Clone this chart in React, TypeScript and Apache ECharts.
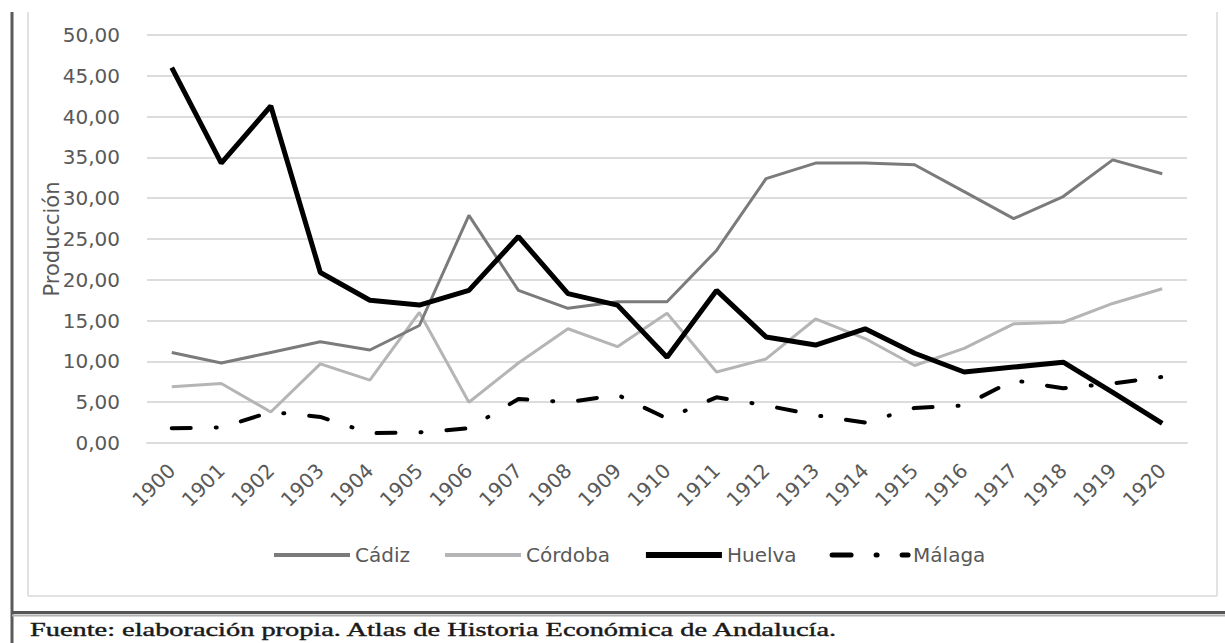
import React, { useEffect, useRef } from "react";
import * as echarts from "echarts";

const years = [
  "1900", "1901", "1902", "1903", "1904", "1905", "1906", "1907", "1908", "1909", "1910",
  "1911", "1912", "1913", "1914", "1915", "1916", "1917", "1918", "1919", "1920",
];
const cadiz = [11.1, 9.8, 11.1, 12.4, 11.4, 14.4, 27.9, 18.7, 16.5, 17.3, 17.3, 23.6, 32.4, 34.3, 34.3, 34.1, 30.8, 27.5, 30.2, 34.7, 33.0];
const cordoba = [6.9, 7.3, 3.8, 9.7, 7.7, 16.0, 5.0, 9.8, 14.0, 11.8, 15.9, 8.7, 10.3, 15.2, 12.8, 9.5, 11.6, 14.6, 14.8, 17.1, 18.9];
const huelva = [46.0, 34.3, 41.3, 20.9, 17.5, 16.9, 18.7, 25.3, 18.3, 16.9, 10.5, 18.7, 13.0, 12.0, 14.0, 11.0, 8.7, 9.3, 9.9, 6.2, 2.4];
const malaga = [1.8, 1.9, 3.8, 3.2, 1.2, 1.3, 1.8, 5.4, 5.0, 5.9, 3.0, 5.6, 4.6, 3.4, 2.5, 4.3, 4.6, 7.7, 6.7, 7.3, 8.1];

const yAxisName = "Producción";
const caption = "Fuente: elaboración propia. Atlas de Historia Económica de Andalucía.";

const W = 1225;
const H = 643;
const FONT = "DejaVu Sans";
const TEXT = "#595959";
const MALAGA_DASH = [19, 25, 1, 25];

export default function App() {
  const ref = useRef<HTMLDivElement>(null);

  useEffect(() => {
    if (!ref.current) return;
    const chart = echarts.init(ref.current, undefined, { renderer: "svg", width: W, height: H });

    let capScale = 1.45;
    try {
      const c = document.createElement("canvas").getContext("2d");
      if (c) {
        c.font = "19px 'Liberation Serif'";
        const w = c.measureText(caption).width;
        if (w > 0) capScale = 810 / w;
      }
    } catch (e) {}

    const option: any = {
      animation: false,
      backgroundColor: "#ffffff",
      grid: { left: 147, right: 38, top: 35, bottom: 200, containLabel: false },
      legend: {
        left: 267,
        top: 540,
        itemWidth: 76,
        itemHeight: 14,
        itemGap: 33,
        textStyle: { fontFamily: FONT, fontSize: 20, color: TEXT },
        data: [
          { name: "Cádiz", lineStyle: { width: 4 } },
          { name: "Córdoba", lineStyle: { width: 4 } },
          { name: "Huelva", lineStyle: { width: 6 } },
          { name: "Málaga", lineStyle: { width: 5 } },
        ],
      },
      xAxis: {
        type: "category",
        data: years,
        boundaryGap: true,
        axisTick: { show: false },
        axisLine: { show: true, lineStyle: { color: "#dcdcdc", width: 2 } },
        axisLabel: {
          rotate: 45,
          margin: 24,
          fontFamily: FONT,
          fontSize: 20,
          color: TEXT,
          interval: 0,
        },
        splitLine: { show: false },
      },
      yAxis: {
        type: "value",
        min: 0,
        max: 50,
        interval: 5,
        name: yAxisName,
        nameLocation: "middle",
        nameRotate: 90,
        nameGap: 85,
        nameMoveOverlap: false,
        nameTextStyle: { fontFamily: FONT, fontSize: 21, color: TEXT },
        axisLine: { show: false },
        axisTick: { show: false },
        axisLabel: {
          margin: 27,
          fontFamily: FONT,
          fontSize: 20,
          color: TEXT,
          formatter: (v: number) => v.toFixed(2).replace(".", ","),
        },
        splitLine: { show: true, lineStyle: { color: "#dcdcdc", width: 2 } },
      },
      series: [
        {
          name: "Cádiz",
          type: "line",
          data: cadiz,
          symbol: "none",
          lineStyle: { color: "#7b7b7b", width: 3 },
          itemStyle: { color: "#7b7b7b", opacity: 0 },
          z: 2,
        },
        {
          name: "Córdoba",
          type: "line",
          data: cordoba,
          symbol: "none",
          lineStyle: { color: "#b5b5b5", width: 3 },
          itemStyle: { color: "#b5b5b5", opacity: 0 },
          z: 1,
        },
        {
          name: "Huelva",
          type: "line",
          data: huelva,
          symbol: "none",
          lineStyle: { color: "#000000", width: 5 },
          itemStyle: { color: "#000000", opacity: 0 },
          z: 3,
        },
        {
          name: "Málaga",
          type: "line",
          data: malaga,
          symbol: "none",
          lineStyle: {
            color: "#000000",
            width: 4,
            type: MALAGA_DASH,
            cap: "round",
          },
          itemStyle: { color: "#000000", opacity: 0 },
          z: 4,
        },
      ],
      graphic: [
        {
          type: "line",
          shape: { x1: 12, y1: 12, x2: 12, y2: H },
          style: { stroke: "#5a5a5a", lineWidth: 3 },
          silent: true,
        },
        {
          type: "line",
          shape: { x1: 28, y1: 12, x2: 28, y2: 596 },
          style: { stroke: "#e2e2e2", lineWidth: 2 },
          silent: true,
        },
        {
          type: "line",
          shape: { x1: 1217, y1: 12, x2: 1217, y2: 596 },
          style: { stroke: "#e2e2e2", lineWidth: 2 },
          silent: true,
        },
        {
          type: "line",
          shape: { x1: 28, y1: 596, x2: 1217, y2: 596 },
          style: { stroke: "#e2e2e2", lineWidth: 2 },
          silent: true,
        },
        {
          type: "line",
          shape: { x1: 12, y1: 612.5, x2: W, y2: 612.5 },
          style: { stroke: "#555555", lineWidth: 3 },
          silent: true,
        },
        {
          type: "line",
          shape: { x1: 12, y1: 615.5, x2: W, y2: 615.5 },
          style: { stroke: "#b0b0b0", lineWidth: 2 },
          silent: true,
        },
        {
          type: "text",
          x: 30,
          y: 639,
          scaleX: capScale,
          style: {
            text: caption,
            fontFamily: "Liberation Serif",
            fontSize: 19,
            fill: "#1a1a1a",
            stroke: "#1a1a1a",
            lineWidth: 0.4,
            verticalAlign: "bottom",
            align: "left",
          },
          silent: true,
        },
      ],
    };

    chart.setOption(option);
    return () => {
      chart.dispose();
    };
  }, []);

  return (
    <div
      ref={ref}
      style={{ position: "fixed", left: 0, top: 0, width: W, height: H, background: "#fff" }}
    />
  );
}
